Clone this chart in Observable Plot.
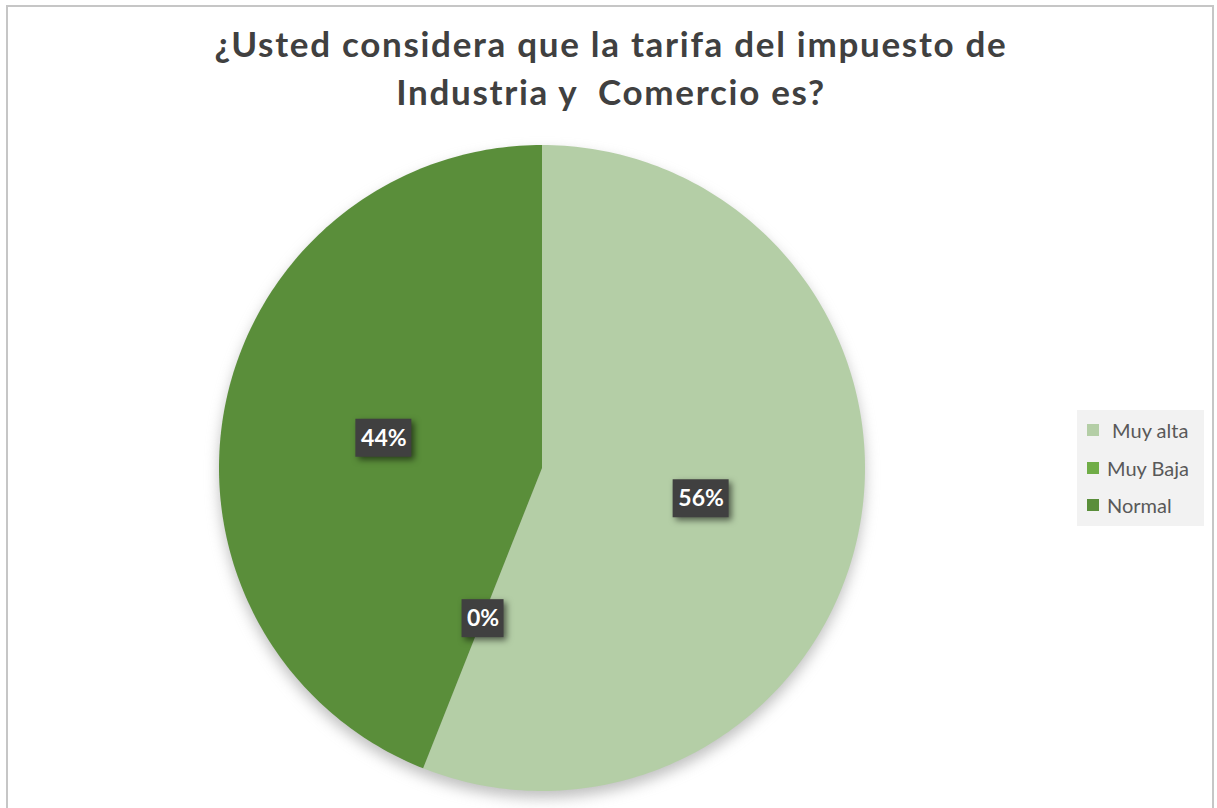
<!DOCTYPE html>
<html>
<head>
<meta charset="utf-8">
<script src="https://cdn.jsdelivr.net/npm/d3@7"></script>
<script src="https://cdn.jsdelivr.net/npm/@observablehq/plot@0.6"></script>
<style>
  html, body { margin: 0; padding: 0; background: #ffffff; }
  #wrap { position: relative; width: 1217px; height: 808px; overflow: hidden; background: #fff; }
  #frame { position: absolute; left: 6px; top: 5px; width: 1208px; height: 820px; border: 2px solid #c6c6c6; box-sizing: border-box; }
  #chart { position: absolute; left: 0; top: 0; }
  #title { position: absolute; left: 0; top: 19px; width: 1222px; text-align: center; font-family: Lato, "Open Sans", sans-serif; font-weight: bold; font-size: 35px; letter-spacing: 1.7px; line-height: 48px; color: #404040; white-space: pre; }
  #legend { position: absolute; left: 1077px; top: 410px; width: 127px; height: 116px; background: #f2f2f2; font-family: Lato, "Open Sans", sans-serif; font-size: 20px; color: #595959; }
  .item { position: absolute; left: 10px; height: 24px; display: flex; align-items: center; white-space: pre; }
  .sw { width: 12px; height: 12px; margin-right: 8px; }
</style>
</head>
<body>
<div id="wrap">
  <div id="frame"></div>
  <div id="chart"></div>
  <div id="title"></div>
  <div id="legend"></div>
</div>
<script>
// ---- data ----
const titleLines = ["¿Usted considera que la tarifa del impuesto de", "Industria y  Comercio es?"];
const categories = ["Muy alta", "Muy Baja", "Normal"];
const legendLabels = [" Muy alta", "Muy Baja", "Normal"];
const values = [56, 0, 44];
const valueLabels = ["56%", "0%", "44%"];
const palette = ["#b4cea6", "#70ad47", "#5a8e3a"];

// ---- layout ----
const W = 1217, H = 808;
const cx = 542, cy = 468, R = 323;
const xDomain = [-cx / R, (W - cx) / R];
const yDomain = [-(H - cy) / R, cy / R];
const u = 1 / R; // data units per pixel

const total = d3.sum(values);
const slicePts = [];
const labelPts = [];
let acc = 0;
categories.forEach((name, i) => {
  const a0 = acc / total * 2 * Math.PI;
  acc += values[i];
  const a1 = acc / total * 2 * Math.PI;
  const n = Math.max(2, Math.ceil((a1 - a0) / (2 * Math.PI) * 360));
  for (let k = 0; k <= n; k++) {
    const a = a0 + (a1 - a0) * k / n;
    slicePts.push({name, cx: 0, cy: 0, px: Math.sin(a), py: Math.cos(a)});
  }
  const am = (a0 + a1) / 2;
  const lx = 0.5 * Math.sin(am), ly = 0.5 * Math.cos(am);
  const bw = 14 * (valueLabels[i].length + 1) * u, bh = 38 * u;
  labelPts.push({name, label: valueLabels[i], x: lx, y: ly, x1: lx - bw / 2, x2: lx + bw / 2, y1: ly - bh / 2, y2: ly + bh / 2});
});
const circlePts = d3.range(0, 361).map(k => ({cx: 0, cy: 0, px: Math.sin(k * Math.PI / 180), py: Math.cos(k * Math.PI / 180)}));

const plot = Plot.plot({
  width: W, height: H, margin: 0,
  x: {domain: xDomain, axis: null},
  y: {domain: yDomain, axis: null},
  color: {domain: categories, range: palette},
  style: {background: "transparent", overflow: "visible"},
  marks: [
    Plot.area(circlePts, {x1: "cx", y1: "cy", x2: "px", y2: "py", fill: "#8c8c8c", fillOpacity: 0.55, dy: 7, imageFilter: "blur(7px)"}),
    Plot.area(slicePts, {x1: "cx", y1: "cy", x2: "px", y2: "py", z: "name", fill: "name"}),
    Plot.rect(labelPts, {x1: "x1", x2: "x2", y1: "y1", y2: "y2", fill: "#404040", imageFilter: "drop-shadow(3px 3px 3px rgba(0,0,0,0.55))"}),
    Plot.text(labelPts, {x: "x", y: "y", text: "label", fill: "white", fontSize: 23, fontWeight: "bold", fontFamily: "Lato, 'Open Sans', sans-serif"})
  ]
});
document.getElementById("chart").appendChild(plot);

document.getElementById("title").textContent = titleLines.join("\n");

const legend = document.getElementById("legend");
const rowCenters = [20, 58, 95];
categories.forEach((name, i) => {
  const it = document.createElement("div");
  it.className = "item";
  it.style.top = (rowCenters[i] - 12) + "px";
  const sw = document.createElement("div");
  sw.className = "sw";
  sw.style.background = palette[i];
  const tx = document.createElement("span");
  tx.textContent = legendLabels[i];
  it.appendChild(sw); it.appendChild(tx);
  legend.appendChild(it);
});
</script>
</body>
</html>
